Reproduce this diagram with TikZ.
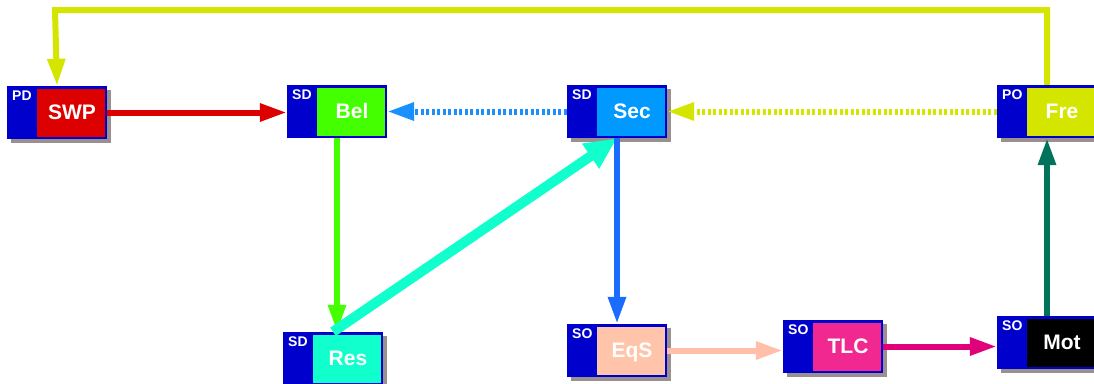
\documentclass[tikz,border=0pt]{standalone}
\usepackage{fontspec}
\setmainfont{Liberation Sans}
\usetikzlibrary{arrows.meta}

\definecolor{tagblue}{HTML}{0000CC}
\definecolor{shadowgray}{HTML}{9A9090}
\definecolor{swpred}{HTML}{DD0000}
\definecolor{belgreen}{HTML}{44FF00}
\definecolor{secblue}{HTML}{0099FF}
\definecolor{fregreen}{HTML}{D4E600}
\definecolor{resteal}{HTML}{11FFCC}
\definecolor{eqspeach}{HTML}{FFC4AA}
\definecolor{tlcpink}{HTML}{F02890}
\definecolor{linkblue}{HTML}{1A90FF}
\definecolor{downblue}{HTML}{1A6CFF}
\definecolor{peachline}{HTML}{FFBFA8}
\definecolor{magline}{HTML}{E0007A}
\definecolor{darkgreen}{HTML}{00735A}

\tikzset{
  boxshadow/.style={fill=shadowgray},
  noshadow/.style={fill=none},
  outerbox/.style={rectangle, fill=tagblue, inner sep=0pt,
    minimum width=100pt, minimum height=53pt},
  tagtext/.style={anchor=north west, inner sep=1pt, text=white,
    font=\bfseries\fontsize{14}{14}\selectfont},
  labeltext/.style={anchor=base, inner sep=0pt, text=white,
    font=\bfseries\fontsize{21}{21}\selectfont},
  conn/.style={line width=6pt, -{Triangle[length=27pt,width=17pt]}},
  thickconn/.style={line width=10pt, -{Triangle[length=32pt,width=28pt]}},
  dotconn/.style={conn, dash pattern=on 3pt off 2.5pt}
}

% #1 shadow style, #2 name, #3 x, #4 y (top-left), #5 tag, #6 label, #7 fill
\newcommand\modulebox[7][boxshadow]{%
  \fill[#1] ({#3+4},{#4+4}) rectangle +(100,53);
  \node[outerbox] (#2) at ({#3+50},{#4+26.5}) {};
  \fill[#7] ({#3+30},{#4+2.5}) rectangle ({#3+97.5},{#4+51});
  \node[tagtext] at ({#3+4},{#4+4}) {#5};
  \node[labeltext] at ({#3+65},{#4+33}) {#6};
}

\begin{document}
\begin{tikzpicture}[x=1pt,y=-1pt]
\useasboundingbox (0,0) rectangle (1094,383);

% modules
\modulebox{swp}{7}{86}{PD}{SWP}{swpred}
\modulebox[noshadow]{bel}{287}{85}{SD}{Bel}{belgreen}
\modulebox{sec}{567}{85}{SD}{Sec}{secblue}
\modulebox{fre}{997}{85}{PO}{Fre}{fregreen}
\modulebox{res}{283}{332}{SD}{Res}{resteal}
\modulebox{eqs}{567}{324}{SO}{EqS}{eqspeach}
\modulebox{tlc}{783}{320}{SO}{TLC}{tlcpink}
\modulebox{mot}{997}{316}{SO}{Mot}{black}

% connectors
\coordinate (topleft) at (55,10);
\draw[conn, fregreen] (fre.north) |- (topleft) -- (swp.north);
\draw[conn, swpred] (swp.east) -- (swp.east -| bel.west);
\draw[dotconn, linkblue] (sec.west) -- (bel.east);
\draw[dotconn, fregreen] (fre.west) -- (sec.east);
\draw[conn, belgreen] (bel.south) -- (bel.south |- res.north);
\draw[thickconn, resteal] (res.north) -- (sec.south);
\draw[conn, downblue] (sec.south) -- (eqs.north);
\draw[conn, peachline] (eqs.east) -- (eqs.east -| tlc.west);
\draw[conn, magline] (tlc.east) -- (tlc.east -| mot.west);
\draw[conn, darkgreen] (mot.north) -- (fre.south);
\end{tikzpicture}
\end{document}
